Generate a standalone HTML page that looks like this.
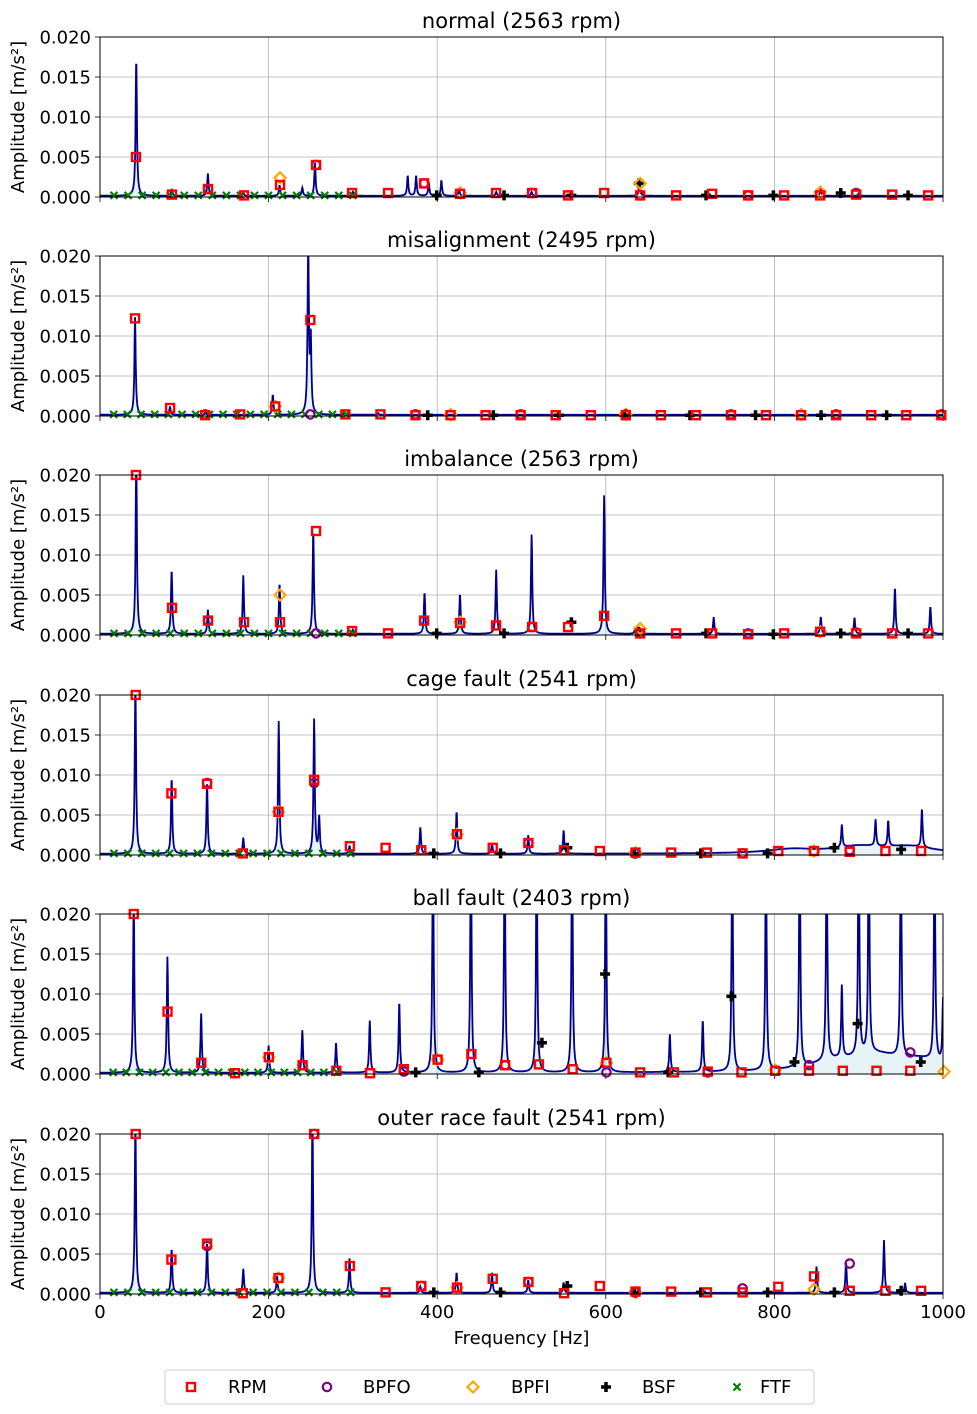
<!DOCTYPE html>
<html><head><meta charset="utf-8"><style>
html,body{margin:0;padding:0;background:#fff}
svg{display:block;font-family:"DejaVu Sans","Liberation Sans",sans-serif}
</style></head><body>
<svg id="chart" width="977" height="1414" viewBox="0 0 977 1414" xmlns="http://www.w3.org/2000/svg"></svg>
<script>
// ---------- data ----------
const panelTitles = ["normal (2563 rpm)","misalignment (2495 rpm)","imbalance (2563 rpm)","cage fault (2541 rpm)","ball fault (2403 rpm)","outer race fault (2541 rpm)"];
const rpms = [2563,2495,2563,2541,2403,2541];
const yTicks = [0,0.005,0.010,0.015,0.020];
const yTickLabels = ["0.000","0.005","0.010","0.015","0.020"];
const xTicks = [0,200,400,600,800,1000];
// spectral peaks per panel (Hz, amplitude)
const normalPeakHz  = [43,85,128,170,213,240,255,300,365,375,390,405,426,470,512,640,855,900];
const normalPeakAmp = [0.0172,0.0008,0.0028,0.0004,0.0013,0.0010,0.0042,0.0005,0.0025,0.0025,0.0017,0.0019,0.0008,0.0005,0.0005,0.0018,0.0009,0.0003];
const misPeakHz  = [41.6,83,125,205,247,250,290,330];
const misPeakAmp = [0.0122,0.0010,0.0003,0.0025,0.0215,0.0090,0.0003,0.0002];
const imbPeakHz  = [43,85,128,170,213,253,300,385,427,470,512,598,635,728,855,895,943,985];
const imbPeakAmp = [0.022,0.0080,0.0030,0.0073,0.0063,0.0130,0.0005,0.0052,0.0050,0.0080,0.0124,0.0173,0.0008,0.0021,0.0021,0.0020,0.0058,0.0034];
const cagePeakHz  = [42,85,127,170,212,254,260,296,380,423,465,508,550,880,920,935,975];
const cagePeakAmp = [0.022,0.0095,0.0090,0.0020,0.0166,0.0168,0.0045,0.0010,0.0033,0.0053,0.0013,0.0023,0.0029,0.0028,0.0033,0.0032,0.0048];
const ballPeakHz  = [40,80,120,200,240,280,320,355,395,440,480,518,560,600,676,715,750,790,830,862,880,900,912,950,990,1000];
const ballPeakAmp = [0.022,0.0145,0.0074,0.0034,0.0053,0.0037,0.0065,0.0089,0.03,0.03,0.03,0.03,0.03,0.03,0.0047,0.0065,0.03,0.03,0.03,0.03,0.009,0.03,0.03,0.03,0.03,0.008];
const outerPeakHz  = [42,85,127,170,210,252,296,380,423,465,508,550,850,885,930,955];
const outerPeakAmp = [0.022,0.0055,0.0063,0.0030,0.0021,0.022,0.0043,0.0008,0.0025,0.0025,0.0016,0.0013,0.0033,0.0038,0.0066,0.0012];
// broad floor humps (Hz, amplitude)
const cageHumpHz = [820,900,960]; const cageHumpAmp = [0.0005,0.0008,0.0008];
const ballHumpHz = [870,920,975];  const ballHumpAmp = [0.0010,0.0018,0.0013];
// marker amplitudes (by harmonic, starting k=1; BSF starts k=5)
const normalRPM = [0.005,0.0003,0.001,0.0002,0.0015,0.004,0.0005,0.0005,0.0017,0.0004,0.0005,0.0005,0.0002,0.0005,0.0002,0.0002,0.0004,0.0002,0.0002,0.0002,0.0003,0.0003,0.0002];
const misRPM = [0.0122,0.001,0.0001,0.0002,0.0012,0.012,0.0002,0.0002,0.0001,0.0001,0.0001,0.0001,0.0001,0.0001,0.0001,0.0001,0.0001,0.0001,0.0001,0.0001,0.0001,0.0001,0.0001,0.0001];
const imbRPM = [0.02,0.0034,0.0018,0.0016,0.0016,0.013,0.0005,0.0002,0.0018,0.0015,0.0012,0.001,0.001,0.0024,0.0002,0.0002,0.0002,0.0001,0.0002,0.0004,0.0002,0.0002,0.0002];
const cageRPM = [0.02,0.0077,0.0089,0.0002,0.0054,0.0094,0.0011,0.0009,0.0006,0.0026,0.0009,0.0015,0.0006,0.0005,0.0003,0.0003,0.0003,0.0002,0.0005,0.0005,0.0004,0.0005,0.0005];
const ballRPM = [0.02,0.0078,0.0014,0.0001,0.0021,0.0011,0.0004,0.0001,0.0006,0.0018,0.0025,0.0011,0.0012,0.0006,0.0014,0.0002,0.0002,0.0003,0.0002,0.0004,0.0004,0.0004,0.0004,0.0004];
const outerRPM = [0.02,0.0043,0.0063,0.0001,0.002,0.02,0.0035,0.0002,0.001,0.0008,0.0019,0.0015,0.0001,0.001,0.0003,0.0003,0.0002,0.0002,0.0009,0.0022,0.0004,0.0004,0.0004];
const normalBPFO=[0.001,0.004,0.0017,0.0005,0.0002,0.0002,0.0005];
const misBPFO=[0.0002,0.0002,0.0002,0.0002,0.0002,0.0002,0.0002,0.0002];
const imbBPFO=[0.0018,0.0002,0.0018,0.001,0.0002,0.0002,0.0003];
const cageBPFO=[0.009,0.009,0.0006,0.0015,0.0002,0.0002,0.0006];
const ballBPFO=[0.0014,0.0011,0.0003,0.0011,0.0002,0.0002,0.0011,0.0027];
const outerBPFO=[0.006,0.02,0.001,0.0015,0.0002,0.0007,0.0038];
const normalBPFI=[0.0024,0.0005,0.0017,0.0006];
const misBPFI=[0.0012,0.0002,0.0002,0.0002];
const imbBPFI=[0.005,0.0016,0.0008,0.0004];
const cageBPFI=[0.0054,0.0026,0.0003,0.0005];
const ballBPFI=[0.0021,0.0018,0.0014,0.0005,0.0003];
const outerBPFI=[0.002,0.0008,0.0002,0.0006];
const normalBSF=[0.0002,0.0002,0.0002,0.0017,0.0002,0.0002,0.0005,0.0002];
const misBSF=[0.0001,0.0001,0.0001,0.0001,0.0001,0.0001,0.0001,0.0001];
const imbBSF=[0.0002,0.0002,0.0016,0.0004,0.0002,0.0001,0.0002,0.0002];
const cageBSF=[0.0002,0.0002,0.0009,0.0002,0.0002,0.0002,0.0009,0.0007];
const ballBSF=[0.0002,0.0002,0.0039,0.0125,0.0002,0.0097,0.0015,0.0063,0.0015];
const outerBSF=[0.0002,0.0002,0.001,0.0002,0.0002,0.0002,0.0002,0.0004];
const ftfAmp=[0.0002,0.0002,0.0002,0.0002,0.0002,0.0002,0.0002,0.0002,0.0002,0.0002,0.0002,0.0002,0.0002,0.0002,0.0002,0.0002,0.0002,0.0002];
const ratioBPFO=3.0, ratioBPFI=5.0, ratioBSF=1.87, ratioFTF=0.39;

const panels=[
 {hz:normalPeakHz,amp:normalPeakAmp,hHz:[],hAmp:[],rpm:normalRPM,bpfo:normalBPFO,bpfi:normalBPFI,bsf:normalBSF},
 {hz:misPeakHz,amp:misPeakAmp,hHz:[],hAmp:[],rpm:misRPM,bpfo:misBPFO,bpfi:misBPFI,bsf:misBSF},
 {hz:imbPeakHz,amp:imbPeakAmp,hHz:[],hAmp:[],rpm:imbRPM,bpfo:imbBPFO,bpfi:imbBPFI,bsf:imbBSF},
 {hz:cagePeakHz,amp:cagePeakAmp,hHz:cageHumpHz,hAmp:cageHumpAmp,rpm:cageRPM,bpfo:cageBPFO,bpfi:cageBPFI,bsf:cageBSF},
 {hz:ballPeakHz,amp:ballPeakAmp,hHz:ballHumpHz,hAmp:ballHumpAmp,rpm:ballRPM,bpfo:ballBPFO,bpfi:ballBPFI,bsf:ballBSF},
 {hz:outerPeakHz,amp:outerPeakAmp,hHz:[],hAmp:[],rpm:outerRPM,bpfo:outerBPFO,bpfi:outerBPFI,bsf:outerBSF}
];
// ---------- drawing ----------
const NS="http://www.w3.org/2000/svg";
const svg=document.getElementById('chart');
const L=100,R=943,H=160,tops=[37,256,475,695,914,1134];
function mk(tag,attrs,parent){const e=document.createElementNS(NS,tag);for(const k in attrs)e.setAttribute(k,attrs[k]);(parent||svg).appendChild(e);return e;}
const xS=f=>L+(f/1000)*(R-L);
function spec(p,f){let v=0.00015;for(let i=0;i<p.hz.length;i++){const d=(f-p.hz[i])/0.9;v+=p.amp[i]/(1+d*d);}for(let i=0;i<p.hHz.length;i++){const d=(f-p.hHz[i])/35;v+=p.hAmp[i]/(1+d*d);}return v;}
const defs=mk('defs',{});
panels.forEach((p,pi)=>{
  const top=tops[pi],bot=top+H;
  const yS=a=>bot-(a/0.02)*H;
  const g=mk('g',{});
  
  
  const cp=mk('clipPath',{id:'cp'+pi},defs);mk('rect',{x:L,y:top,width:R-L,height:H},cp);
  xTicks.forEach(t=>{const l=mk('line',{x1:xS(t),x2:xS(t),y1:top,y2:bot,stroke:'#b0b0b0','stroke-width':0.8},g);
    mk('line',{x1:xS(t),x2:xS(t),y1:bot,y2:bot+5,stroke:'#000','stroke-width':0.8},g);});
  yTicks.forEach((t,i)=>{const l=mk('line',{x1:L,x2:R,y1:yS(t),y2:yS(t),stroke:'#b0b0b0','stroke-width':0.8},g);
    mk('line',{x1:L-5,x2:L,y1:yS(t),y2:yS(t),stroke:'#000','stroke-width':0.8},g);
    const tx=mk('text',{x:L-9,y:yS(t)+6.5,'text-anchor':'end','font-size':18},g);tx.textContent=yTickLabels[i];
    });
  let d='';for(let f=0;f<=1000;f+=0.4){d+=(f?'L':'M')+xS(f).toFixed(1)+','+yS(spec(p,f)).toFixed(1);}
  const cg=mk('g',{'clip-path':'url(#cp'+pi+')'},g);
  const fill=mk('path',{d:d+'L'+R+','+bot+'L'+L+','+bot+'Z',fill:'#add8e6','fill-opacity':0.3,stroke:'none'},cg);
  
  const ln=mk('path',{d:d,fill:'none',stroke:'#00008b','stroke-width':1.8},cg);
  
  const f0=rpms[pi]/60;
  const cpm=mk('clipPath',{id:'cpm'+pi},defs);mk('rect',{x:L-8,y:top-8,width:R-L+16,height:H+16},cpm);
  const mg=mk('g',{'clip-path':'url(#cpm'+pi+')'},g);
  ftfAmp.forEach((a,k)=>{const x=xS((k+1)*f0*ratioFTF),y=yS(a);const m=mk('path',{d:`M${x-3.5},${y-3.5}L${x+3.5},${y+3.5}M${x-3.5},${y+3.5}L${x+3.5},${y-3.5}`,stroke:'#008000','stroke-width':2.2},mg);});
  p.bsf.forEach((a,k)=>{const x=xS((k+5)*f0*ratioBSF),y=yS(a);const m=mk('path',{d:`M${x-5},${y}L${x+5},${y}M${x},${y-5}L${x},${y+5}`,stroke:'#000','stroke-width':3.5},mg);});
  p.bpfi.forEach((a,k)=>{const x=xS((k+1)*f0*ratioBPFI),y=yS(a);const m=mk('path',{d:`M${x},${y-5.5}L${x+5.5},${y}L${x},${y+5.5}L${x-5.5},${y}Z`,fill:'none',stroke:'#ffa500','stroke-width':2.2},mg);});
  p.bpfo.forEach((a,k)=>{const x=xS((k+1)*f0*ratioBPFO),y=yS(a);const m=mk('circle',{cx:x,cy:y,r:4.2,fill:'none',stroke:'#800080','stroke-width':2.2},mg);});
  p.rpm.forEach((a,k)=>{const f=(k+1)*f0;if(f>1000)return;const x=xS(f),y=yS(a);const m=mk('rect',{x:x-4,y:y-4,width:8,height:8,fill:'none',stroke:'#ff0000','stroke-width':2.4},mg);});
  const fr=mk('rect',{x:L,y:top,width:R-L,height:H,fill:'none',stroke:'#000','stroke-width':1},g);
  
  const tt=mk('text',{x:(L+R)/2,y:top-9,'text-anchor':'middle','font-size':21},g);tt.textContent=panelTitles[pi];
  
  const yl=mk('text',{x:0,y:0,'text-anchor':'middle','font-size':18,transform:`translate(24,${top+H/2}) rotate(-90)`},g);yl.textContent='Amplitude [m/s²]';
  
  if(pi===5){xTicks.forEach(t=>{const tx=mk('text',{x:xS(t),y:bot+24,'text-anchor':'middle','font-size':18},g);tx.textContent=t;
    });
    const xt=mk('text',{x:(L+R)/2,y:bot+50,'text-anchor':'middle','font-size':18},g);xt.textContent='Frequency [Hz]';
    }
});
// legend
const lg=mk('g',{});


mk('rect',{x:165,y:1370,width:649,height:34,rx:3,fill:'#fff',stroke:'#ccc','stroke-width':1},lg);
const ly=1387;
mk('rect',{x:187,y:ly-4,width:8,height:8,fill:'none',stroke:'#ff0000','stroke-width':2.4},lg);
mk('circle',{cx:327,cy:ly,r:4.2,fill:'none',stroke:'#800080','stroke-width':2.2},lg);
mk('path',{d:`M473,${ly-5.5}L478.5,${ly}L473,${ly+5.5}L467.5,${ly}Z`,fill:'none',stroke:'#ffa500','stroke-width':2.2},lg);
mk('path',{d:`M601,${ly}L611,${ly}M606,${ly-5}L606,${ly+5}`,stroke:'#000','stroke-width':3.5},lg);
mk('path',{d:`M733.5,${ly-3.5}L740.5,${ly+3.5}M733.5,${ly+3.5}L740.5,${ly-3.5}`,stroke:'#008000','stroke-width':2.2},lg);
const legendNames=["RPM","BPFO","BPFI","BSF","FTF"];
const legendX=[228,363,511,642,760];
legendNames.forEach((n,i)=>{const t=mk('text',{x:legendX[i],y:ly+6,'font-size':18},lg);t.textContent=n;
  });
</script>
</body></html>
